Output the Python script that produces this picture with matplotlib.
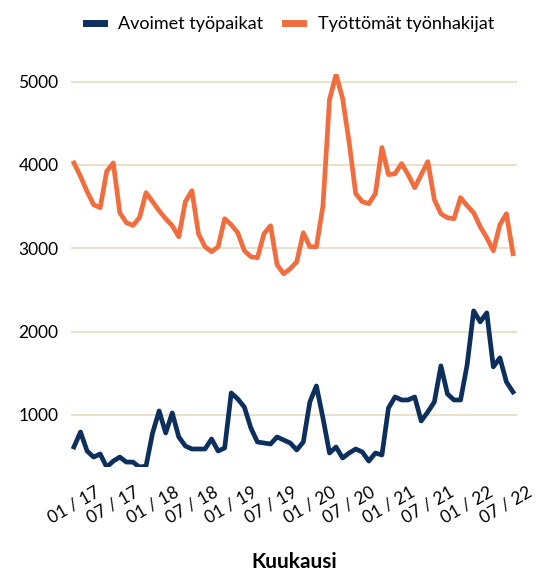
import numpy as np
import matplotlib.pyplot as plt

# Kuukausittaiset arvot 01/2017 - 08/2022
avoimet = [616, 796, 568, 495, 532, 375, 447, 495, 435, 435, 375, 387,
           784, 1048, 784, 1024, 736, 628, 592, 592, 592, 712, 568, 604,
           1264, 1192, 1096, 844, 676, 664, 652, 736, 700, 664, 580, 676,
           1156, 1348, 964, 544, 616, 484, 544, 592, 556, 447, 544, 520,
           1084, 1216, 1180, 1180, 1216, 928, 1036, 1156, 1589, 1252, 1180, 1180,
           1601, 2249, 2117, 2225, 1577, 1685, 1396, 1276]
tyottomat = [4023, 3862, 3682, 3523, 3486, 3923, 4023, 3426, 3306, 3274, 3366, 3667,
             3559, 3450, 3354, 3270, 3138, 3559, 3691, 3174, 3018, 2958, 3018, 3354,
             3282, 3186, 2970, 2898, 2886, 3174, 3270, 2802, 2694, 2754, 2838, 3186,
             3018, 3018, 3510, 4784, 5084, 4796, 4267, 3655, 3559, 3535, 3655, 4207,
             3883, 3895, 4015, 3883, 3727, 3883, 4039, 3583, 3414, 3366, 3354, 3607,
             3510, 3426, 3258, 3126, 2970, 3282, 3414, 2934]
months = ["%02d / %02d" % (m, y) for y in range(17, 23) for m in range(1, 13)][:len(avoimet)]

plt.rcParams['font.family'] = ['Lato', 'DejaVu Sans']

fig = plt.figure(figsize=(5.47, 5.72), dpi=100)
ax = fig.add_axes([0.1298, 0.1827, 0.8152, 0.6879])

x = np.arange(len(months))
ax.plot(x, avoimet, color='#0d2f5e', lw=3.4, solid_joinstyle='round', label='Avoimet työpaikat')
ax.plot(x, tyottomat, color='#f26d3d', lw=3.4, solid_joinstyle='round', label='Työttömät työnhakijat')

ax.set_xlim(-0.45, len(months) - 0.4)
ax.set_ylim(370, 5090)
ax.set_yticks([1000, 2000, 3000, 4000, 5000])
ax.grid(axis='y', color='#e8dec6', lw=1.3)
ax.set_axisbelow(True)
for s in ax.spines.values():
    s.set_visible(False)

ax.set_xticks(x[::6])
ax.set_xticklabels(months[::6], rotation=30, ha='center', fontsize=12.5)
ax.tick_params(length=0)
ax.tick_params(axis='y', labelsize=12.5, pad=9)
ax.tick_params(axis='x', pad=12)
ax.set_xlabel('Kuukausi', fontsize=15, fontweight='bold', labelpad=18)

leg = fig.legend(loc='upper center', bbox_to_anchor=(0.53, 1.0), ncol=2, frameon=False,
                 fontsize=13, handlelength=1.0, columnspacing=1.2, handletextpad=0.8)
for h in leg.get_lines():
    h.set_linewidth(5)

fig.savefig('out.png', dpi=100)
